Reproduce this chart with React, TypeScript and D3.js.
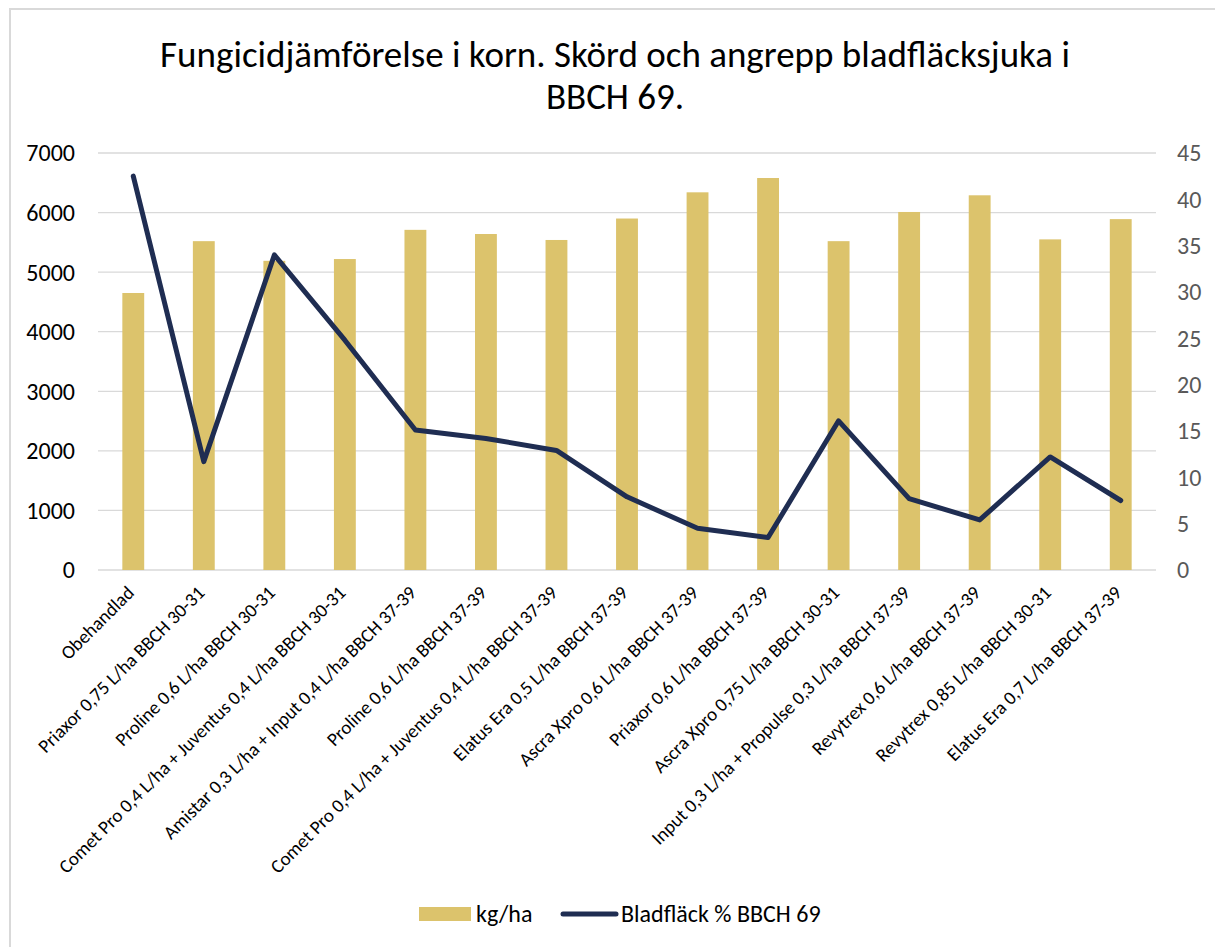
import React from 'react';
import { scaleBand, scaleLinear, line } from 'd3';

const categories = [
  'Obehandlad',
  'Priaxor 0,75 L/ha BBCH 30-31',
  'Proline 0,6 L/ha BBCH 30-31',
  'Comet Pro 0,4 L/ha + Juventus 0,4 L/ha BBCH 30-31',
  'Amistar 0,3 L/ha + Input 0,4 L/ha BBCH 37-39',
  'Proline 0,6 L/ha BBCH 37-39',
  'Comet Pro 0,4 L/ha + Juventus 0,4 L/ha BBCH 37-39',
  'Elatus Era 0,5 L/ha BBCH 37-39',
  'Ascra Xpro 0,6 L/ha BBCH 37-39',
  'Priaxor 0,6 L/ha BBCH 37-39',
  'Ascra Xpro 0,75 L/ha BBCH 30-31',
  'Input 0,3 L/ha + Propulse 0,3 L/ha BBCH 37-39',
  'Revytrex 0,6 L/ha BBCH 37-39',
  'Revytrex 0,85 L/ha BBCH 30-31',
  'Elatus Era 0,7 L/ha BBCH 37-39',
];

// kg/ha (left axis)
const yieldValues = [4650, 5520, 5190, 5220, 5710, 5640, 5540, 5900, 6340, 6580, 5520, 6010, 6290, 5550, 5890];
// Bladfläck % BBCH 69 (right axis)
const bladValues = [42.5, 11.7, 34.0, 24.8, 15.1, 14.2, 12.9, 7.9, 4.5, 3.5, 16.1, 7.7, 5.4, 12.2, 7.5];

const leftTicks = [0, 1000, 2000, 3000, 4000, 5000, 6000, 7000];
const rightTicks = [0, 5, 10, 15, 20, 25, 30, 35, 40, 45];

const titleLines = ['Fungicidjämförelse i korn. Skörd och angrepp bladfläcksjuka i', 'BBCH 69.'];

const W = 1215;
const H = 947;
const font = 'Carlito, Lato, sans-serif';
const barColor = '#DCC36C';
const lineColor = '#1F2D52';
const gridColor = '#D9D9D9';

export default function App() {
  const margin = { left: 98, right: 1156, top: 153, bottom: 570 };

  const x = scaleBand()
    .domain(categories)
    .range([margin.left, margin.right])
    .paddingInner(0.69)
    .paddingOuter(0.345);

  const yLeft = scaleLinear().domain([0, 7000]).range([margin.bottom, margin.top]);
  const yRight = scaleLinear().domain([0, 45]).range([margin.bottom, margin.top]);

  const cx = (c) => x(c) + x.bandwidth() / 2;

  const pathGen = line()
    .x((d) => cx(d[0]))
    .y((d) => yRight(d[1]));
  const linePath = pathGen(categories.map((c, i) => [c, bladValues[i]]));

  return (
    <svg width={W} height={H} style={{ position: 'absolute', left: 0, top: 0, background: '#fff' }} fontFamily={font}>
      <rect x={10} y={9} width={W + 10} height={H + 10} fill="#fff" stroke={gridColor} strokeWidth={2} />

      {titleLines.map((t, i) => (
        <text key={i} x={615} y={67 + i * 42} textAnchor="middle" fontSize={37} fill="#000">{t}</text>
      ))}

      {leftTicks.map((t) => (
        <g key={'g' + t}>
          <line x1={margin.left} x2={margin.right} y1={yLeft(t)} y2={yLeft(t)} stroke={gridColor} strokeWidth={1.3} />
          <text x={75} y={yLeft(t)} dy="0.35em" textAnchor="end" fontSize={24} fill="#000">{t}</text>
        </g>
      ))}

      {rightTicks.map((t) => (
        <text key={'r' + t} x={1177} y={yRight(t)} dy="0.35em" textAnchor="start" fontSize={24} fill="#595959">{t}</text>
      ))}

      {categories.map((c, i) => (
        <rect key={'b' + i} x={x(c)} y={yLeft(yieldValues[i])} width={x.bandwidth()} height={yLeft(0) - yLeft(yieldValues[i])} fill={barColor} />
      ))}

      <path d={linePath} fill="none" stroke={lineColor} strokeWidth={5} strokeLinejoin="round" strokeLinecap="round" />

      {categories.map((c, i) => (
        <text key={'l' + i} transform={`translate(${cx(c) + 2},${594}) rotate(-45)`} textAnchor="end" fontSize={19} fill="#000">{c}</text>
      ))}

      <g>
        <rect x={419} y={907} width={52} height={14} fill={barColor} />
        <text x={476} y={922} fontSize={24} fill="#000">kg/ha</text>
        <line x1={563} x2={616} y1={914} y2={914} stroke={lineColor} strokeWidth={5} strokeLinecap="round" />
        <text x={621} y={922} fontSize={24} fill="#000">Bladfläck % BBCH 69</text>
      </g>
    </svg>
  );
}
